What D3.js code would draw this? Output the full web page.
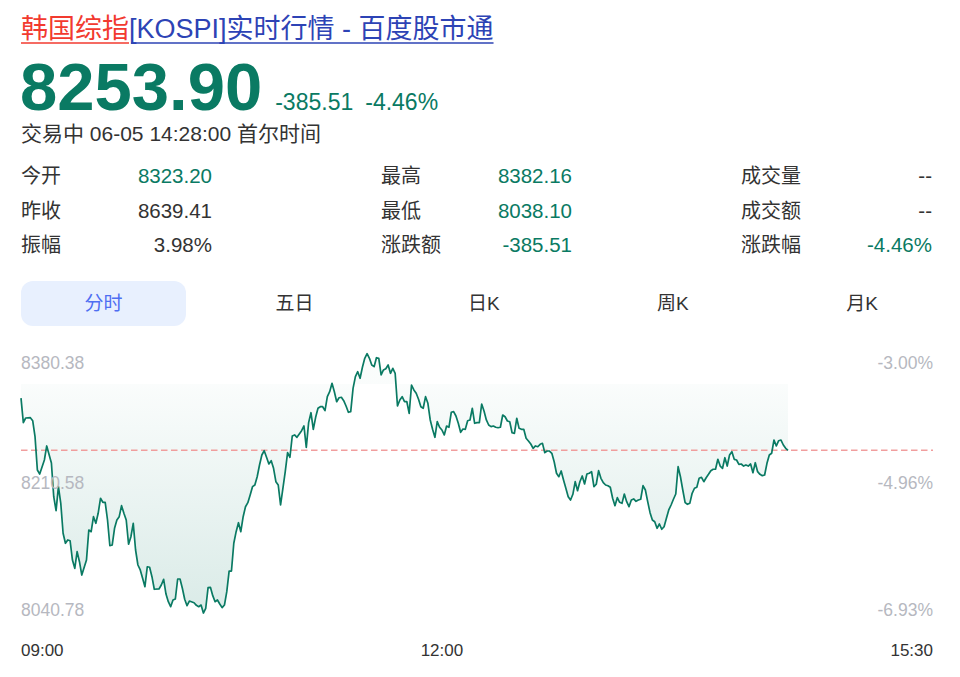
<!DOCTYPE html>
<html><head><meta charset="utf-8">
<script src="https://cdn.jsdelivr.net/npm/d3@7"></script>
<style>
html,body{margin:0;padding:0;background:#fff;}
svg{display:block;}
text{font-family:"Liberation Sans",Arial,"Noto Sans CJK SC",sans-serif;}
</style></head><body>
<svg id="chart" width="960" height="677"></svg>
<script>
// ---------- data ----------
const titleKeyword = "韩国综指";
const titleCode = "[KOSPI]";
const titleRest = "实时行情 - 百度股市通";
const lastPrice = "8253.90";
const changeText = ["-385.51", "-4.46%"];
const statusText = "交易中 06-05 14:28:00 首尔时间";
const prevClose = 8639.41;

const statLabels = [["今开", "昨收", "振幅"], ["最高", "最低", "涨跌额"], ["成交量", "成交额", "涨跌幅"]];
const statValues = [["8323.20", "8639.41", "3.98%"], ["8382.16", "8038.10", "-385.51"], ["--", "--", "-4.46%"]];
const statGreen = [[true, false, false], [true, true, true], [false, false, true]];

const tabs = ["分时", "五日", "日K", "周K", "月K"];
const activeTab = "分时";

const yTicks = [8380.38, 8210.58, 8040.78];
const xTickMinutes = [0, 180, 390];
const xTickLabels = ["09:00", "12:00", "15:30"];
const sessionMinutes = 390;
const areaBase = 8342;

// minutes after 09:00
const minutes = [0,1,2,4,5,6,7,8,10,11,13,14,15,16,17,18,19,20,21,22,23,24,25,26,28,29,30,31,32,33,34,35,36,37,38,39,40,41,42,43,44,45,46,47,48,49,50,51,52,53,54,55,56,57,59,60,61,62,63,64,65,66,67,68,69,70,71,72,74,75,76,77,78,79,80,81,82,83,84,85,86,87,88,89,90,91,92,93,94,95,96,97,98,99,100,101,102,103,104,105,106,107,108,109,110,111,112,113,114,115,116,117,118,119,120,121,122,123,124,125,126,127,128,129,130,131,132,133,134,135,136,137,138,139,140,141,142,143,144,145,146,147,148,149,150,151,152,153,154,155,156,157,158,159,160,161,162,163,164,165,166,167,168,169,170,171,172,173,174,175,176,177,178,179,180,181,182,183,184,185,186,187,188,189,190,191,192,193,194,195,196,197,198,199,200,201,202,203,204,205,206,207,208,209,210,211,212,213,214,215,216,217,218,219,220,221,222,223,224,225,226,227,228,229,230,231,232,233,234,235,236,237,238,239,240,241,242,243,244,245,246,247,248,249,250,251,252,253,254,255,256,257,258,259,260,261,262,263,264,265,266,267,268,269,270,271,272,273,274,275,276,277,278,279,280,281,282,283,284,285,286,287,288,289,290,291,292,293,294,295,296,297,298,299,300,301,302,303,304,305,306,307,308,309,310,311,312,313,314,315,316,317,318,319,320,321,322,323,324,325,326,327,328];
const prices = [8323.20,8290.6,8296.8,8297.2,8293.2,8272.0,8227.8,8222.5,8241.1,8259.7,8237.1,8192.4,8173.8,8205.7,8184.0,8143.9,8130.6,8135.0,8134.0,8108.4,8097.4,8119.5,8106.2,8088.5,8108.4,8148.2,8146.0,8165.9,8157.1,8170.4,8190.3,8185.0,8185.0,8161.5,8127.4,8128.3,8150.5,8161.5,8165.9,8180.5,8170.4,8161.5,8129.3,8139.3,8157.1,8121.7,8101.8,8095.2,8084.2,8073.0,8099.5,8098.8,8086.3,8069.6,8070.0,8075.3,8082.8,8063.3,8053.1,8046.5,8055.4,8056.7,8083.2,8083.2,8070.9,8056.3,8047.8,8054.0,8051.8,8048.3,8046.5,8048.7,8038.1,8044.4,8071.7,8072.2,8061.1,8053.1,8055.4,8050.1,8045.2,8048.7,8066.4,8093.8,8093.8,8130.6,8146.0,8157.9,8146.0,8165.9,8179.1,8184.5,8194.7,8205.7,8207.9,8218.9,8234.5,8247.7,8253.4,8244.7,8235.8,8240.2,8230.1,8212.3,8207.9,8181.4,8203.6,8225.6,8250.8,8244.7,8272.9,8274.3,8271.2,8275.6,8280.0,8286.2,8257.9,8290.6,8303.8,8281.8,8297.7,8309.7,8311.8,8311.8,8306.5,8325.1,8331.7,8342.8,8331.7,8318.4,8323.7,8324.3,8319.8,8312.7,8304.4,8305.2,8336.2,8351.6,8358.2,8349.5,8364.1,8376.0,8382.16,8376.0,8367.1,8364.9,8376.8,8376.0,8353.9,8360.5,8362.2,8367.1,8356.1,8362.7,8356.1,8312.7,8320.7,8325.1,8318.4,8318.4,8303.0,8340.6,8334.0,8329.6,8321.6,8311.8,8309.7,8325.1,8316.3,8294.2,8281.8,8271.2,8291.9,8284.5,8280.9,8274.3,8286.2,8284.5,8304.4,8305.2,8299.5,8289.8,8277.8,8282.2,8281.8,8293.2,8294.2,8309.7,8289.8,8290.6,8290.6,8315.4,8306.1,8294.2,8287.5,8285.3,8286.2,8284.5,8283.9,8284.5,8300.8,8298.5,8292.8,8291.9,8277.3,8276.5,8296.4,8283.1,8281.8,8281.8,8269.9,8266.3,8262.3,8256.6,8259.7,8258.7,8261.9,8263.2,8250.8,8253.0,8253.0,8250.0,8238.8,8223.5,8218.9,8226.5,8214.6,8203.6,8192.4,8188.0,8195.6,8212.3,8200.4,8212.3,8219.9,8209.3,8222.5,8223.5,8225.6,8205.7,8208.9,8226.9,8216.8,8211.0,8207.9,8207.0,8204.9,8190.3,8180.5,8191.1,8185.0,8183.6,8196.0,8185.8,8179.1,8188.0,8189.4,8186.3,8188.0,8189.0,8207.0,8201.3,8185.8,8171.2,8161.5,8159.2,8150.5,8156.2,8149.2,8152.6,8163.8,8174.8,8181.4,8189.0,8196.0,8232.2,8218.9,8201.3,8184.5,8182.3,8183.6,8196.9,8203.6,8204.9,8216.8,8218.1,8212.3,8217.6,8222.1,8226.9,8228.8,8228.8,8242.0,8233.1,8230.1,8244.1,8233.1,8247.7,8252.1,8242.0,8241.1,8235.4,8235.8,8233.1,8234.5,8233.1,8235.8,8224.2,8237.5,8225.6,8222.1,8220.3,8221.2,8236.7,8247.7,8250.0,8267.6,8259.7,8266.7,8267.6,8261.0,8256.6,8253.90];

// ---------- styles ----------
const GREEN = "#0a7a63", DARK = "#333333", RED = "#f23a2f", BLUE = "#2d43b5", GREY = "#b6b8c0";
const svg = d3.select("#chart");

// ---------- title ----------
const titleY = 38;
let tx = 21;
const t1 = svg.append("text").attr("x", tx).attr("y", titleY).attr("font-size", 27).attr("fill", RED).text(titleKeyword);
const w1 = t1.node().getComputedTextLength();
const t2 = svg.append("text").attr("x", tx + w1).attr("y", titleY).attr("font-size", 27).attr("fill", BLUE).text(titleCode + titleRest);
const w2 = t2.node().getComputedTextLength();
svg.append("line").attr("x1", tx).attr("x2", tx + w1).attr("y1", 43).attr("y2", 43).attr("stroke", RED).attr("stroke-width", 1.7);
svg.append("line").attr("x1", tx + w1 + 2).attr("x2", tx + w1 + w2).attr("y1", 43).attr("y2", 43).attr("stroke", BLUE).attr("stroke-width", 1.7);

// ---------- price header ----------
const big = svg.append("text").attr("x", 20).attr("y", 110).attr("font-size", 67).attr("font-weight", "bold").attr("fill", GREEN).text(lastPrice);
const bw = big.node().getComputedTextLength();
let cx = 20 + bw + 13;
changeText.forEach(s => {
  const t = svg.append("text").attr("x", cx).attr("y", 110).attr("font-size", 23).attr("fill", GREEN).text(s);
  cx += t.node().getComputedTextLength() + 12;
});
svg.append("text").attr("x", 21).attr("y", 141).attr("font-size", 21).attr("fill", DARK).text(statusText);

// ---------- stats ----------
const colX = d3.scalePoint().domain([0, 1, 2]).range([21, 741]);
const rowY = d3.scalePoint().domain([0, 1, 2]).range([183, 252]);
statLabels.forEach((col, ci) => {
  col.forEach((lab, ri) => {
    svg.append("text").attr("x", colX(ci)).attr("y", rowY(ri)).attr("font-size", 20).attr("fill", DARK).text(lab);
    svg.append("text").attr("x", colX(ci) + 191).attr("y", rowY(ri)).attr("font-size", 20.5).attr("text-anchor", "end")
      .attr("fill", statGreen[ci][ri] ? GREEN : DARK).text(statValues[ci][ri]);
  });
});

// ---------- tabs ----------
const tabX = d3.scalePoint().domain(tabs).range([103.5, 860]);
svg.append("rect").attr("x", tabX(activeTab) - 82.5).attr("y", 281).attr("width", 165).attr("height", 45).attr("rx", 12).attr("fill", "#e8f0fe");
tabs.forEach(t => {
  svg.append("text").attr("x", tabX(t) + (t === activeTab ? 0 : 2)).attr("y", 310).attr("font-size", 19).attr("text-anchor", "middle")
    .attr("fill", t === activeTab ? "#4e6ef2" : DARK).text(t);
});

// ---------- chart ----------
const x = d3.scaleLinear().domain([0, sessionMinutes]).range([21, 933]);
const y = d3.scaleLinear().domain([yTicks[2], yTicks[0]]).range([611, 355]);
const data = minutes.map((m, i) => ({ m, p: prices[i] }));

const defs = svg.append("defs");
const grad = defs.append("linearGradient").attr("id", "fillGrad").attr("gradientUnits", "userSpaceOnUse")
  .attr("x1", 0).attr("x2", 0).attr("y1", y(areaBase)).attr("y2", y(yTicks[2]));
grad.append("stop").attr("offset", 0).attr("stop-color", GREEN).attr("stop-opacity", 0.02);
grad.append("stop").attr("offset", 1).attr("stop-color", GREEN).attr("stop-opacity", 0.15);

const area = d3.area().x(d => x(d.m)).y0(y(areaBase)).y1(d => y(d.p));
svg.append("path").datum(data).attr("d", area).attr("fill", "url(#fillGrad)");

// current price reference line
svg.append("line").attr("x1", x(0)).attr("x2", x(sessionMinutes))
  .attr("y1", y(+lastPrice)).attr("y2", y(+lastPrice))
  .attr("stroke", "#ef9393").attr("stroke-opacity", 0.9).attr("stroke-width", 1.5).attr("stroke-dasharray", "6.5,3.5");

const line = d3.line().x(d => x(d.m)).y(d => y(d.p));
svg.append("path").datum(data).attr("d", line).attr("fill", "none").attr("stroke", GREEN).attr("stroke-width", 1.7).attr("stroke-linejoin", "round");

// y labels
const yDy = [14.3, 5.7, 5];
yTicks.forEach((v, i) => {
  svg.append("text").attr("x", x(0)).attr("y", y(v) + yDy[i]).attr("font-size", 17.5).attr("fill", GREY).text(v.toFixed(2));
  const pct = ((v / prevClose - 1) * 100).toFixed(2) + "%";
  svg.append("text").attr("x", x(sessionMinutes)).attr("y", y(v) + yDy[i]).attr("font-size", 17.5).attr("text-anchor", "end").attr("fill", GREY).text(pct);
});

// x labels
const anchors = ["start", "middle", "end"];
xTickMinutes.forEach((m, i) => {
  svg.append("text").attr("x", x(m)).attr("y", 656).attr("font-size", 17).attr("text-anchor", anchors[i]).attr("fill", DARK).text(xTickLabels[i]);
});
</script>
</body></html>
